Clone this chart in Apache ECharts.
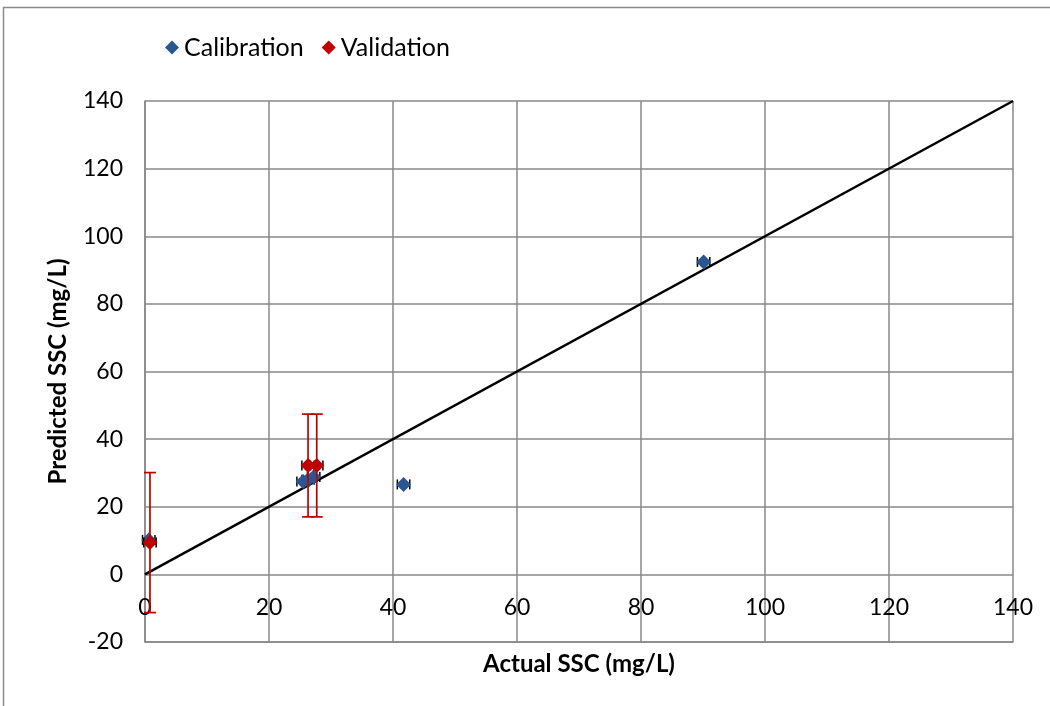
<!DOCTYPE html>
<html>
<head>
<meta charset="utf-8">
<script src="https://cdn.jsdelivr.net/npm/echarts@6/dist/echarts.min.js"></script>
<style>html,body{margin:0;padding:0;background:#fff}#c{width:1050px;height:706px}</style>
</head>
<body>
<div id="c"></div>
<script>
// Calibration data
const calX = [0.6, 25.5, 26.3, 27.2, 41.7, 90.1];
const calY = [10.2, 27.5, 28.0, 28.8, 26.6, 92.4];
const calXErr = [1, 1, 1, 1, 1, 1];
const calYErr = [0, 0, 0, 0, 0, 0];
// Validation data
const valX = [0.8, 26.3, 27.7];
const valY = [9.4, 32.2, 32.2];
const valXErr = [1, 1, 1];
const valYErr = [20.7, 15.2, 15.2];
// 1:1 line
const lineX = [0, 140];
const lineY = [0, 140];
const xTicks = [0, 20, 40, 60, 80, 100, 120, 140];
const yTicks = [-20, 0, 20, 40, 60, 80, 100, 120, 140];

const FONT = 'Lato';
const BLUE = '#2B5690';
const RED = '#C00000';
const GRID = '#898989';

function errData(xs, ys, xe, ye) {
  return xs.map((x, i) => [x, ys[i], xe[i], ye[i]]);
}
function errRender(vColor) {
  return function (params, api) {
    const x = api.value(0), y = api.value(1), xe = api.value(2), ye = api.value(3);
    const children = [];
    const capH = 5, capV = 6;
    if (xe > 0) {
      const l = api.coord([x - xe, y]), r = api.coord([x + xe, y]);
      const st = { stroke: '#000', lineWidth: 1.5 };
      children.push({ type: 'line', shape: { x1: l[0], y1: l[1], x2: r[0], y2: r[1] }, style: st });
      children.push({ type: 'line', shape: { x1: l[0], y1: l[1] - capH, x2: l[0], y2: l[1] + capH }, style: st });
      children.push({ type: 'line', shape: { x1: r[0], y1: r[1] - capH, x2: r[0], y2: r[1] + capH }, style: st });
    }
    if (ye > 0) {
      const t = api.coord([x, y + ye]), b = api.coord([x, y - ye]);
      const st = { stroke: vColor, lineWidth: 1.7 };
      children.push({ type: 'line', shape: { x1: t[0], y1: t[1], x2: b[0], y2: b[1] }, style: st });
      children.push({ type: 'line', shape: { x1: t[0] - capV, y1: t[1], x2: t[0] + capV, y2: t[1] }, style: st });
      children.push({ type: 'line', shape: { x1: b[0] - capV, y1: b[1], x2: b[0] + capV, y2: b[1] }, style: st });
    }
    return { type: 'group', children };
  };
}

const chart = echarts.init(document.getElementById('c'), null, { renderer: 'canvas' });
chart.setOption({
  animation: false,
  textStyle: { fontFamily: FONT },
  graphic: [{
    type: 'rect', z: -1,
    shape: { x: 3.5, y: 7.5, width: 1200, height: 900 },
    style: { fill: 'none', stroke: '#8a8a8a', lineWidth: 1.5 }
  }],
  grid: { left: 145, right: 37, top: 101, bottom: 64, containLabel: false, outerBoundsMode: 'none' },
  legend: {
    left: 160, top: 30,
    itemWidth: 14, itemHeight: 14, itemGap: 18,
    textStyle: { fontFamily: FONT, fontSize: 25, color: '#000' },
    data: [
      { name: 'Calibration', icon: 'diamond', itemStyle: { color: BLUE } },
      { name: 'Validation', icon: 'diamond', itemStyle: { color: RED } }
    ]
  },
  xAxis: {
    type: 'value', min: 0, max: 140, interval: 20,
    axisLine: { onZero: false, lineStyle: { color: GRID, width: 1.5 } },
    axisTick: { show: false },
    axisLabel: { fontFamily: FONT, fontSize: 23, color: '#000', margin: -46,
      formatter: v => xTicks.includes(v) ? String(v) : '' },
    splitLine: { show: true, lineStyle: { color: GRID, width: 1.5 } },
    name: 'Actual SSC (mg/L)', nameLocation: 'middle', nameGap: 10,
    nameTextStyle: { fontFamily: FONT, fontSize: 24, fontWeight: 'bold', color: '#000', verticalAlign: 'top' }
  },
  yAxis: {
    type: 'value', min: -20, max: 140, interval: 20,
    axisLine: { show: true, lineStyle: { color: GRID, width: 1.5 } },
    axisTick: { show: false },
    axisLabel: { fontFamily: FONT, fontSize: 23, color: '#000', margin: 22,
      formatter: v => yTicks.includes(v) ? String(v) : '' },
    splitLine: { show: true, lineStyle: { color: GRID, width: 1.5 } },
    name: 'Predicted SSC (mg/L)', nameLocation: 'middle', nameGap: 87,
    nameTextStyle: { fontFamily: FONT, fontSize: 24, fontWeight: 'bold', color: '#000', verticalAlign: 'middle' }
  },
  series: [
    {
      name: '1:1', type: 'line', data: lineX.map((x, i) => [x, lineY[i]]),
      showSymbol: false, symbol: 'none', lineStyle: { color: '#000', width: 2.5 }, z: 2, silent: true
    },
    {
      name: 'calErr', type: 'custom', renderItem: errRender(BLUE),
      data: errData(calX, calY, calXErr, calYErr), z: 3, silent: true
    },
    {
      name: 'valErr', type: 'custom', renderItem: errRender(RED),
      data: errData(valX, valY, valXErr, valYErr), z: 5, silent: true
    },
    {
      name: 'Calibration', type: 'scatter', symbol: 'diamond', symbolSize: 15,
      itemStyle: { color: BLUE, opacity: 1 }, data: calX.map((x, i) => [x, calY[i]]), z: 4
    },
    {
      name: 'Validation', type: 'scatter', symbol: 'diamond', symbolSize: 15,
      itemStyle: { color: RED, opacity: 1 }, data: valX.map((x, i) => [x, valY[i]]), z: 6
    }
  ]
});
</script>
</body>
</html>
